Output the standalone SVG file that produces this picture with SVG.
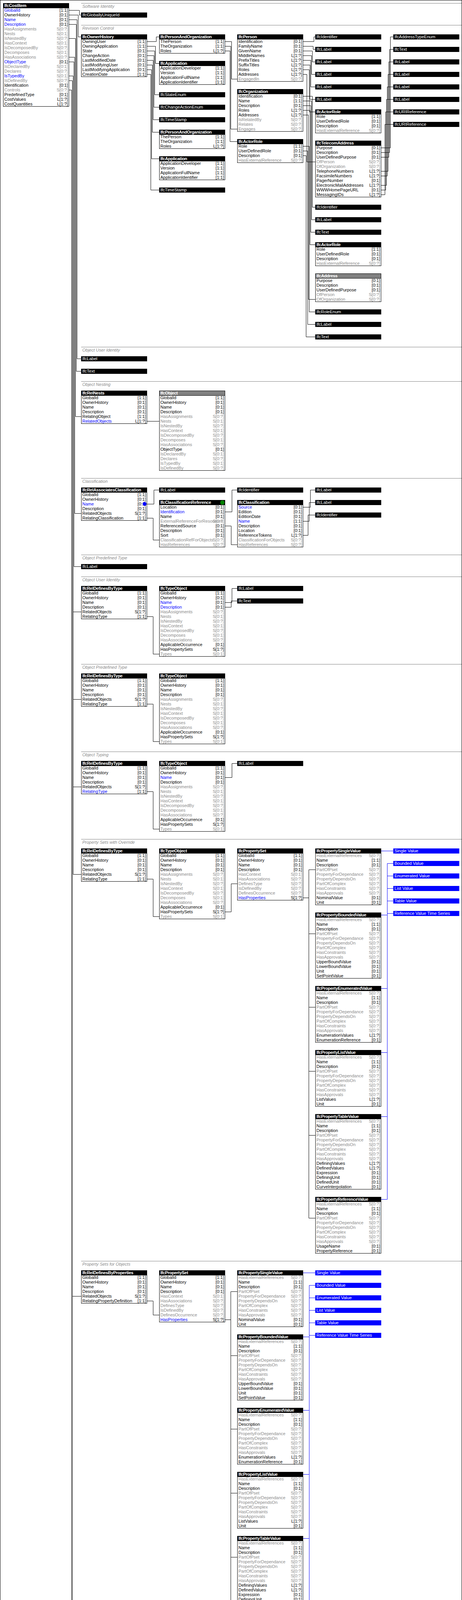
<svg xmlns="http://www.w3.org/2000/svg" width="1184" height="5460" viewBox="0 0 1184 5460">
<style>
.t{font-family:"Liberation Sans",Arial,Helvetica,sans-serif;font-size:11px;fill:#000}
.c{text-anchor:end}
.g{fill:#8c8c8c}
.u{fill:#0000ff}
.m{fill:#990000}
.ht{font-weight:bold;fill:#fff;letter-spacing:-0.3px}
.lt{fill:#fff}
.bx{fill:#fff;stroke:#000}
.hd{fill:#000;stroke:#000}
.hg{fill:#808080;stroke:#000}
.lb{fill:#000}
.bb{fill:#0000ff}
.sl{stroke:#808080;fill:none}
.st{font-style:italic;fill:#8c8c8c}
.w{stroke:#000;fill:none}
.wb{stroke:#0000ff;fill:none}
</style>
<rect x=".5" y=".5" width="1183" height="5459" fill="#fff" stroke="#000"/>

<g id="sections">
<path class="sl" d="M208 8.5H1183M208 64.5H1183M208 888.5H1183M208 976.5H1183M208 1224.5H1183M208 1420.5H1183M208 1476.5H1183M208 1700.5H1183M208 1924.5H1183M208 2148.5H1183M208 3228.5H1183M208 4308.5H1183M208 5224.5H1183"/>
<text class="t st" x="211" y="20">Software Identity</text>
<text class="t st" x="211" y="76">Revision Control</text>
<text class="t st" x="211" y="900">Object User Identity</text>
<text class="t st" x="211" y="988">Object Nesting</text>
<text class="t st" x="211" y="1236">Classification</text>
<text class="t st" x="211" y="1432">Object Predefined Type</text>
<text class="t st" x="211" y="1488">Object User Identity</text>
<text class="t st" x="211" y="1712">Object Predefined Type</text>
<text class="t st" x="211" y="1936">Object Typing</text>
<text class="t st" x="211" y="2160">Property Sets with Override</text>
<text class="t st" x="211" y="3240">Property Sets for Objects</text>
<text class="t st" x="211" y="4320">Property Sets with Override</text>
<text class="t st" x="211" y="5236">Control Assignment</text>
</g>

<g id="connectors">
<g class="w">
<path d="M177 26.5H203.5V38.5H208"/>
<path d="M177 38.5H200.5V94.5H208"/>
<path d="M177 50.5H197.5V918.5H208"/>
<path d="M177 62.5H195.5V950.5H208"/>
<path d="M177 98.5H193.5V1066.5H208"/>
<path d="M177 146.5H191.5V1314.5H208"/>
<path d="M177 158.5H189.5V1450.5H208"/>
<path d="M177 194.5H187.5V2238.5H208M187.5 1566.5H208M187.5 1790.5H208M187.5 2014.5H208"/>
<path d="M177 206.5H185.5V4398.5H208M185.5 3318.5H208"/>
<path d="M177 230.5H183.5V5338.5H208"/>
<path d="M377 106.5H400.5V94.5H408"/>
<path d="M377 118.5H398.5V162.5H408"/>
<path d="M377 130.5H396.5V242.5H408"/>
<path d="M377 142.5H394.5V274.5H408"/>
<path d="M377 154.5H392.5V306.5H408"/>
<path d="M377 166.5H390.5V338.5H408"/>
<path d="M377 178.5H388.5V406.5H408"/>
<path d="M377 190.5H386.5V486.5H408"/>
<path d="M577 106.5H593.5V202.5H608"/>
<path d="M577 118.5H591.5V330.5H608"/>
<path d="M577 130.5H589.5V362.5H608"/>
<path d="M777 106.5H804.5V94.5H808"/>
<path d="M777 118.5H802.5V126.5H808"/>
<path d="M777 130.5H800.5V158.5H808"/>
<path d="M777 142.5H798.5V190.5H808"/>
<path d="M777 154.5H796.5V222.5H808"/>
<path d="M777 166.5H794.5V254.5H808"/>
<path d="M777 178.5H792.5V286.5H808"/>
<path d="M777 190.5H786.5V414.5H808"/>
<path d="M777 246.5H800.5V530.5H808"/>
<path d="M777 258.5H798.5V562.5H808"/>
<path d="M777 270.5H796.5V594.5H808"/>
<path d="M777 282.5H794.5V626.5H808"/>
<path d="M777 294.5H790.5V766.5H808"/>
<path d="M777 374.5H792.5V798.5H808"/>
<path d="M777 386.5H788.5V830.5H808"/>
<path d="M777 398.5H784.5V862.5H808"/>
<path d="M977 378.5H1000.5V94.5H1008"/>
<path d="M977 390.5H998.5V126.5H1008"/>
<path d="M977 402.5H996.5V158.5H1008"/>
<path d="M977 438.5H994.5V190.5H1008"/>
<path d="M977 450.5H992.5V222.5H1008"/>
<path d="M977 474.5H990.5V254.5H1008"/>
<path d="M977 486.5H988.5V286.5H1008"/>
<path d="M977 498.5H986.5V318.5H1008"/>
<path d="M377 1078.5H408"/>
<path d="M377 1290.5H394.5V1254.5H408"/>
<path d="M377 1326.5H392.5V1382.5H408"/>
<path d="M577 1310.5H594.5V1254.5H608"/>
<path d="M577 1346.5H592.5V1394.5H608"/>
<path d="M777 1298.5H795.5V1254.5H808"/>
<path d="M777 1334.5H792.5V1286.5H808"/>
<path d="M777 1370.5H789.5V1318.5H808"/>
<path d="M377 1578.5H392.5V1674.5H408"/>
<path d="M577 1542.5H594.5V1506.5H608"/>
<path d="M577 1554.5H592.5V1538.5H608"/>
<path d="M377 1802.5H392.5V1898.5H408"/>
<path d="M377 2026.5H392.5V2122.5H408"/>
<path d="M577 1990.5H594.5V1954.5H608"/>
<path d="M377 2250.5H392.5V2346.5H408"/>
<path d="M577 2334.5H592.5V2262.5H608"/>
<path d="M777 2298.5H791.5M791.5 2226.5V3118.5M791.5 2226.5H808M791.5 2390.5H808M791.5 2578.5H808M791.5 2742.5H808M791.5 2906.5H808M791.5 3118.5H808"/>
<path d="M377 3330.5H392.5V3366.5H408"/>
<path d="M577 3378.5H591.5M591.5 3306.5V4198.5M591.5 3306.5H608M591.5 3470.5H608M591.5 3658.5H608M591.5 3822.5H608M591.5 3986.5H608M591.5 4198.5H608"/>
<path d="M377 4410.5H392.5V4446.5H408"/>
<path d="M577 4458.5H591.5M591.5 4386.5V5066.5M591.5 4386.5H608M591.5 4550.5H608M591.5 4738.5H608M591.5 4902.5H608M591.5 5066.5H608"/>
<path d="M377 5314.5H408"/>
</g>
<g class="wb">
<path d="M1008 2178.5H977"/>
<path d="M1008 2210.5H992.5V2342.5H977"/>
<path d="M1008 2242.5H992.5V2530.5H977"/>
<path d="M1008 2274.5H992.5V2694.5H977"/>
<path d="M1008 2306.5H992.5V2858.5H977"/>
<path d="M1008 2338.5H992.5V3070.5H977"/>
<path d="M808 3258.5H777"/>
<path d="M808 3290.5H792.5V3422.5H777"/>
<path d="M808 3322.5H792.5V3610.5H777"/>
<path d="M808 3354.5H792.5V3774.5H777"/>
<path d="M808 3386.5H792.5V3938.5H777"/>
<path d="M808 3418.5H792.5V4150.5H777"/>
</g>
</g>

<g id="n-costitem" transform="translate(8,8)"><rect class="bx" x=".5" y=".5" width="168" height="264"/><rect class="hd" x=".5" y=".5" width="168" height="12"/><text class="t ht" x="3" y="10">IfcCostItem</text>
<text class="t" y="10"><tspan x="3" dy="12" class="u">GlobalId</tspan><tspan x="3" dy="12">OwnerHistory</tspan><tspan x="3" dy="12" class="u">Name</tspan><tspan x="3" dy="12" class="u">Description</tspan><tspan x="3" dy="12" class="g">HasAssignments</tspan><tspan x="3" dy="12" class="g">Nests</tspan><tspan x="3" dy="12" class="g">IsNestedBy</tspan><tspan x="3" dy="12" class="g">HasContext</tspan><tspan x="3" dy="12" class="g">IsDecomposedBy</tspan><tspan x="3" dy="12" class="g">Decomposes</tspan><tspan x="3" dy="12" class="g">HasAssociations</tspan><tspan x="3" dy="12" class="u">ObjectType</tspan><tspan x="3" dy="12" class="g">IsDeclaredBy</tspan><tspan x="3" dy="12" class="g">Declares</tspan><tspan x="3" dy="12" class="u">IsTypedBy</tspan><tspan x="3" dy="12" class="g">IsDefinedBy</tspan><tspan x="3" dy="12">Identification</tspan><tspan x="3" dy="12" class="g">Controls</tspan><tspan x="3" dy="12">PredefinedType</tspan><tspan x="3" dy="12">CostValues</tspan><tspan x="3" dy="12">CostQuantities</tspan></text>
<text class="t c" y="10"><tspan x="166" dy="12">[1:1]</tspan><tspan x="166" dy="12">[0:1]</tspan><tspan x="166" dy="12">[0:1]</tspan><tspan x="166" dy="12">[0:1]</tspan><tspan x="166" dy="12" class="g">S[0:?]</tspan><tspan x="166" dy="12" class="g">S[0:1]</tspan><tspan x="166" dy="12" class="g">S[0:?]</tspan><tspan x="166" dy="12" class="g">S[0:1]</tspan><tspan x="166" dy="12" class="g">S[0:?]</tspan><tspan x="166" dy="12" class="g">S[0:1]</tspan><tspan x="166" dy="12" class="g">S[0:?]</tspan><tspan x="166" dy="12">[0:1]</tspan><tspan x="166" dy="12" class="g">S[0:1]</tspan><tspan x="166" dy="12" class="g">S[0:?]</tspan><tspan x="166" dy="12" class="g">S[0:1]</tspan><tspan x="166" dy="12" class="g">S[0:?]</tspan><tspan x="166" dy="12">[0:1]</tspan><tspan x="166" dy="12" class="g">S[0:?]</tspan><tspan x="166" dy="12">[0:1]</tspan><tspan x="166" dy="12">L[1:?]</tspan><tspan x="166" dy="12">L[1:?]</tspan></text></g>

<g id="n-globallyuniqueid" transform="translate(208,32)"><rect class="lb" width="169" height="13"/><text class="t lt" x="3" y="10">IfcGloballyUniqueId</text></g>

<g id="n-ownerhistory" transform="translate(208,88)"><rect class="bx" x=".5" y=".5" width="168" height="108"/><rect class="hd" x=".5" y=".5" width="168" height="12"/><text class="t ht" x="3" y="10">IfcOwnerHistory</text>
<text class="t" y="10"><tspan x="3" dy="12">OwningUser</tspan><tspan x="3" dy="12">OwningApplication</tspan><tspan x="3" dy="12">State</tspan><tspan x="3" dy="12">ChangeAction</tspan><tspan x="3" dy="12">LastModifiedDate</tspan><tspan x="3" dy="12">LastModifyingUser</tspan><tspan x="3" dy="12">LastModifyingApplication</tspan><tspan x="3" dy="12">CreationDate</tspan></text>
<text class="t c" y="10"><tspan x="166" dy="12">[1:1]</tspan><tspan x="166" dy="12">[1:1]</tspan><tspan x="166" dy="12">[0:1]</tspan><tspan x="166" dy="12">[0:1]</tspan><tspan x="166" dy="12">[0:1]</tspan><tspan x="166" dy="12">[0:1]</tspan><tspan x="166" dy="12">[0:1]</tspan><tspan x="166" dy="12">[1:1]</tspan></text></g>

<g id="n-personandorg-1" transform="translate(408,88)"><rect class="bx" x=".5" y=".5" width="168" height="48"/><rect class="hd" x=".5" y=".5" width="168" height="12"/><text class="t ht" x="3" y="10">IfcPersonAndOrganization</text>
<text class="t" y="10"><tspan x="3" dy="12">ThePerson</tspan><tspan x="3" dy="12">TheOrganization</tspan><tspan x="3" dy="12">Roles</tspan></text>
<text class="t c" y="10"><tspan x="166" dy="12">[1:1]</tspan><tspan x="166" dy="12">[1:1]</tspan><tspan x="166" dy="12">L[1:?]</tspan></text></g>

<g id="n-application-1" transform="translate(408,156)"><rect class="bx" x=".5" y=".5" width="168" height="60"/><rect class="hd" x=".5" y=".5" width="168" height="12"/><text class="t ht" x="3" y="10">IfcApplication</text>
<text class="t" y="10"><tspan x="3" dy="12">ApplicationDeveloper</tspan><tspan x="3" dy="12">Version</tspan><tspan x="3" dy="12">ApplicationFullName</tspan><tspan x="3" dy="12">ApplicationIdentifier</tspan></text>
<text class="t c" y="10"><tspan x="166" dy="12">[1:1]</tspan><tspan x="166" dy="12">[1:1]</tspan><tspan x="166" dy="12">[1:1]</tspan><tspan x="166" dy="12">[1:1]</tspan></text></g>

<g id="n-stateenum" transform="translate(408,236)"><rect class="lb" width="169" height="13"/><text class="t lt" x="3" y="10">IfcStateEnum</text></g>
<g id="n-changeactionenum" transform="translate(408,268)"><rect class="lb" width="169" height="13"/><text class="t lt" x="3" y="10">IfcChangeActionEnum</text></g>
<g id="n-timestamp-1" transform="translate(408,300)"><rect class="lb" width="169" height="13"/><text class="t lt" x="3" y="10">IfcTimeStamp</text></g>

<g id="n-personandorg-2" transform="translate(408,332)"><rect class="bx" x=".5" y=".5" width="168" height="48"/><rect class="hd" x=".5" y=".5" width="168" height="12"/><text class="t ht" x="3" y="10">IfcPersonAndOrganization</text>
<text class="t" y="10"><tspan x="3" dy="12">ThePerson</tspan><tspan x="3" dy="12">TheOrganization</tspan><tspan x="3" dy="12">Roles</tspan></text>
<text class="t c" y="10"><tspan x="166" dy="12">[1:1]</tspan><tspan x="166" dy="12">[1:1]</tspan><tspan x="166" dy="12">L[1:?]</tspan></text></g>

<g id="n-application-2" transform="translate(408,400)"><rect class="bx" x=".5" y=".5" width="168" height="60"/><rect class="hd" x=".5" y=".5" width="168" height="12"/><text class="t ht" x="3" y="10">IfcApplication</text>
<text class="t" y="10"><tspan x="3" dy="12">ApplicationDeveloper</tspan><tspan x="3" dy="12">Version</tspan><tspan x="3" dy="12">ApplicationFullName</tspan><tspan x="3" dy="12">ApplicationIdentifier</tspan></text>
<text class="t c" y="10"><tspan x="166" dy="12">[1:1]</tspan><tspan x="166" dy="12">[1:1]</tspan><tspan x="166" dy="12">[1:1]</tspan><tspan x="166" dy="12">[1:1]</tspan></text></g>

<g id="n-timestamp-2" transform="translate(408,480)"><rect class="lb" width="169" height="13"/><text class="t lt" x="3" y="10">IfcTimeStamp</text></g>

<g id="n-person" transform="translate(608,88)"><rect class="bx" x=".5" y=".5" width="168" height="120"/><rect class="hd" x=".5" y=".5" width="168" height="12"/><text class="t ht" x="3" y="10">IfcPerson</text>
<text class="t" y="10"><tspan x="3" dy="12">Identification</tspan><tspan x="3" dy="12">FamilyName</tspan><tspan x="3" dy="12">GivenName</tspan><tspan x="3" dy="12">MiddleNames</tspan><tspan x="3" dy="12">PrefixTitles</tspan><tspan x="3" dy="12">SuffixTitles</tspan><tspan x="3" dy="12">Roles</tspan><tspan x="3" dy="12">Addresses</tspan><tspan x="3" dy="12" class="g">EngagedIn</tspan></text>
<text class="t c" y="10"><tspan x="166" dy="12">[0:1]</tspan><tspan x="166" dy="12">[0:1]</tspan><tspan x="166" dy="12">[0:1]</tspan><tspan x="166" dy="12">L[1:?]</tspan><tspan x="166" dy="12">L[1:?]</tspan><tspan x="166" dy="12">L[1:?]</tspan><tspan x="166" dy="12">L[1:?]</tspan><tspan x="166" dy="12">L[1:?]</tspan><tspan x="166" dy="12" class="g">S[0:?]</tspan></text></g>

<g id="n-organization" transform="translate(608,228)"><rect class="bx" x=".5" y=".5" width="168" height="108"/><rect class="hd" x=".5" y=".5" width="168" height="12"/><text class="t ht" x="3" y="10">IfcOrganization</text>
<text class="t" y="10"><tspan x="3" dy="12">Identification</tspan><tspan x="3" dy="12">Name</tspan><tspan x="3" dy="12">Description</tspan><tspan x="3" dy="12">Roles</tspan><tspan x="3" dy="12">Addresses</tspan><tspan x="3" dy="12" class="g">IsRelatedBy</tspan><tspan x="3" dy="12" class="g">Relates</tspan><tspan x="3" dy="12" class="g">Engages</tspan></text>
<text class="t c" y="10"><tspan x="166" dy="12">[0:1]</tspan><tspan x="166" dy="12">[1:1]</tspan><tspan x="166" dy="12">[0:1]</tspan><tspan x="166" dy="12">L[1:?]</tspan><tspan x="166" dy="12">L[1:?]</tspan><tspan x="166" dy="12" class="g">S[0:?]</tspan><tspan x="166" dy="12" class="g">S[0:?]</tspan><tspan x="166" dy="12" class="g">S[0:?]</tspan></text></g>

<g id="n-actorrole-1" transform="translate(608,356)"><rect class="bx" x=".5" y=".5" width="168" height="60"/><rect class="hd" x=".5" y=".5" width="168" height="12"/><text class="t ht" x="3" y="10">IfcActorRole</text>
<text class="t" y="10"><tspan x="3" dy="12">Role</tspan><tspan x="3" dy="12">UserDefinedRole</tspan><tspan x="3" dy="12">Description</tspan><tspan x="3" dy="12" class="g">HasExternalReference</tspan></text>
<text class="t c" y="10"><tspan x="166" dy="12">[1:1]</tspan><tspan x="166" dy="12">[0:1]</tspan><tspan x="166" dy="12">[0:1]</tspan><tspan x="166" dy="12" class="g">S[0:?]</tspan></text></g>

<g id="n-identifier-1" transform="translate(808,88)"><rect class="lb" width="169" height="13"/><text class="t lt" x="3" y="10">IfcIdentifier</text></g>
<g id="n-label-1" transform="translate(808,120)"><rect class="lb" width="169" height="13"/><text class="t lt" x="3" y="10">IfcLabel</text></g>
<g id="n-label-2" transform="translate(808,152)"><rect class="lb" width="169" height="13"/><text class="t lt" x="3" y="10">IfcLabel</text></g>
<g id="n-label-3" transform="translate(808,184)"><rect class="lb" width="169" height="13"/><text class="t lt" x="3" y="10">IfcLabel</text></g>
<g id="n-label-4" transform="translate(808,216)"><rect class="lb" width="169" height="13"/><text class="t lt" x="3" y="10">IfcLabel</text></g>
<g id="n-label-5" transform="translate(808,248)"><rect class="lb" width="169" height="13"/><text class="t lt" x="3" y="10">IfcLabel</text></g>

<g id="n-actorrole-2" transform="translate(808,280)"><rect class="bx" x=".5" y=".5" width="168" height="60"/><rect class="hd" x=".5" y=".5" width="168" height="12"/><text class="t ht" x="3" y="10">IfcActorRole</text>
<text class="t" y="10"><tspan x="3" dy="12">Role</tspan><tspan x="3" dy="12">UserDefinedRole</tspan><tspan x="3" dy="12">Description</tspan><tspan x="3" dy="12" class="g">HasExternalReference</tspan></text>
<text class="t c" y="10"><tspan x="166" dy="12">[1:1]</tspan><tspan x="166" dy="12">[0:1]</tspan><tspan x="166" dy="12">[0:1]</tspan><tspan x="166" dy="12" class="g">S[0:?]</tspan></text></g>

<g id="n-telecomaddress" transform="translate(808,360)"><rect class="bx" x=".5" y=".5" width="168" height="144"/><rect class="hd" x=".5" y=".5" width="168" height="12"/><text class="t ht" x="3" y="10">IfcTelecomAddress</text>
<text class="t" y="10"><tspan x="3" dy="12">Purpose</tspan><tspan x="3" dy="12">Description</tspan><tspan x="3" dy="12">UserDefinedPurpose</tspan><tspan x="3" dy="12" class="g">OfPerson</tspan><tspan x="3" dy="12" class="g">OfOrganization</tspan><tspan x="3" dy="12">TelephoneNumbers</tspan><tspan x="3" dy="12">FacsimileNumbers</tspan><tspan x="3" dy="12">PagerNumber</tspan><tspan x="3" dy="12">ElectronicMailAddresses</tspan><tspan x="3" dy="12">WWWHomePageURL</tspan><tspan x="3" dy="12">MessagingIDs</tspan></text>
<text class="t c" y="10"><tspan x="166" dy="12">[0:1]</tspan><tspan x="166" dy="12">[0:1]</tspan><tspan x="166" dy="12">[0:1]</tspan><tspan x="166" dy="12" class="g">S[0:?]</tspan><tspan x="166" dy="12" class="g">S[0:?]</tspan><tspan x="166" dy="12">L[1:?]</tspan><tspan x="166" dy="12">L[1:?]</tspan><tspan x="166" dy="12">[0:1]</tspan><tspan x="166" dy="12">L[1:?]</tspan><tspan x="166" dy="12">[0:1]</tspan><tspan x="166" dy="12">L[1:?]</tspan></text></g>

<g id="n-identifier-2" transform="translate(808,524)"><rect class="lb" width="169" height="13"/><text class="t lt" x="3" y="10">IfcIdentifier</text></g>
<g id="n-label-6" transform="translate(808,556)"><rect class="lb" width="169" height="13"/><text class="t lt" x="3" y="10">IfcLabel</text></g>
<g id="n-text-1" transform="translate(808,588)"><rect class="lb" width="169" height="13"/><text class="t lt" x="3" y="10">IfcText</text></g>

<g id="n-actorrole-3" transform="translate(808,620)"><rect class="bx" x=".5" y=".5" width="168" height="60"/><rect class="hd" x=".5" y=".5" width="168" height="12"/><text class="t ht" x="3" y="10">IfcActorRole</text>
<text class="t" y="10"><tspan x="3" dy="12">Role</tspan><tspan x="3" dy="12">UserDefinedRole</tspan><tspan x="3" dy="12">Description</tspan><tspan x="3" dy="12" class="g">HasExternalReference</tspan></text>
<text class="t c" y="10"><tspan x="166" dy="12">[1:1]</tspan><tspan x="166" dy="12">[0:1]</tspan><tspan x="166" dy="12">[0:1]</tspan><tspan x="166" dy="12" class="g">S[0:?]</tspan></text></g>

<g id="n-address" transform="translate(808,700)"><rect class="bx" x=".5" y=".5" width="168" height="72"/><rect class="hg" x=".5" y=".5" width="168" height="12"/><text class="t ht" x="3" y="10">IfcAddress</text>
<text class="t" y="10"><tspan x="3" dy="12">Purpose</tspan><tspan x="3" dy="12">Description</tspan><tspan x="3" dy="12">UserDefinedPurpose</tspan><tspan x="3" dy="12" class="g">OfPerson</tspan><tspan x="3" dy="12" class="g">OfOrganization</tspan></text>
<text class="t c" y="10"><tspan x="166" dy="12">[0:1]</tspan><tspan x="166" dy="12">[0:1]</tspan><tspan x="166" dy="12">[0:1]</tspan><tspan x="166" dy="12" class="g">S[0:?]</tspan><tspan x="166" dy="12" class="g">S[0:?]</tspan></text></g>

<g id="n-roleenum" transform="translate(808,792)"><rect class="lb" width="169" height="13"/><text class="t lt" x="3" y="10">IfcRoleEnum</text></g>
<g id="n-label-7" transform="translate(808,824)"><rect class="lb" width="169" height="13"/><text class="t lt" x="3" y="10">IfcLabel</text></g>
<g id="n-text-2" transform="translate(808,856)"><rect class="lb" width="169" height="13"/><text class="t lt" x="3" y="10">IfcText</text></g>

<g id="n-addresstypeenum" transform="translate(1008,88)"><rect class="lb" width="169" height="13"/><text class="t lt" x="3" y="10">IfcAddressTypeEnum</text></g>
<g id="n-text-3" transform="translate(1008,120)"><rect class="lb" width="169" height="13"/><text class="t lt" x="3" y="10">IfcText</text></g>
<g id="n-label-8" transform="translate(1008,152)"><rect class="lb" width="169" height="13"/><text class="t lt" x="3" y="10">IfcLabel</text></g>
<g id="n-label-9" transform="translate(1008,184)"><rect class="lb" width="169" height="13"/><text class="t lt" x="3" y="10">IfcLabel</text></g>
<g id="n-label-10" transform="translate(1008,216)"><rect class="lb" width="169" height="13"/><text class="t lt" x="3" y="10">IfcLabel</text></g>
<g id="n-label-11" transform="translate(1008,248)"><rect class="lb" width="169" height="13"/><text class="t lt" x="3" y="10">IfcLabel</text></g>
<g id="n-urireference-1" transform="translate(1008,280)"><rect class="lb" width="169" height="13"/><text class="t lt" x="3" y="10">IfcURIReference</text></g>
<g id="n-urireference-2" transform="translate(1008,312)"><rect class="lb" width="169" height="13"/><text class="t lt" x="3" y="10">IfcURIReference</text></g>

<g id="n-label-12" transform="translate(208,912)"><rect class="lb" width="169" height="13"/><text class="t lt" x="3" y="10">IfcLabel</text></g>
<g id="n-text-4" transform="translate(208,944)"><rect class="lb" width="169" height="13"/><text class="t lt" x="3" y="10">IfcText</text></g>

<g id="n-relnests" transform="translate(208,1000)"><rect class="bx" x=".5" y=".5" width="168" height="84"/><rect class="hd" x=".5" y=".5" width="168" height="12"/><text class="t ht" x="3" y="10">IfcRelNests</text>
<text class="t" y="10"><tspan x="3" dy="12">GlobalId</tspan><tspan x="3" dy="12">OwnerHistory</tspan><tspan x="3" dy="12">Name</tspan><tspan x="3" dy="12">Description</tspan><tspan x="3" dy="12">RelatingObject</tspan><tspan x="3" dy="12" class="u">RelatedObjects</tspan></text>
<text class="t c" y="10"><tspan x="166" dy="12">[1:1]</tspan><tspan x="166" dy="12">[0:1]</tspan><tspan x="166" dy="12">[0:1]</tspan><tspan x="166" dy="12">[0:1]</tspan><tspan x="166" dy="12">[1:1]</tspan><tspan x="166" dy="12">L[1:?]</tspan></text></g>

<g id="n-object-1" transform="translate(408,1000)"><rect class="bx" x=".5" y=".5" width="168" height="204"/><rect class="hg" x=".5" y=".5" width="168" height="12"/><text class="t ht" x="3" y="10">IfcObject</text>
<text class="t" y="10"><tspan x="3" dy="12">GlobalId</tspan><tspan x="3" dy="12">OwnerHistory</tspan><tspan x="3" dy="12">Name</tspan><tspan x="3" dy="12">Description</tspan><tspan x="3" dy="12" class="g">HasAssignments</tspan><tspan x="3" dy="12" class="g">Nests</tspan><tspan x="3" dy="12" class="g">IsNestedBy</tspan><tspan x="3" dy="12" class="g">HasContext</tspan><tspan x="3" dy="12" class="g">IsDecomposedBy</tspan><tspan x="3" dy="12" class="g">Decomposes</tspan><tspan x="3" dy="12" class="g">HasAssociations</tspan><tspan x="3" dy="12">ObjectType</tspan><tspan x="3" dy="12" class="g">IsDeclaredBy</tspan><tspan x="3" dy="12" class="g">Declares</tspan><tspan x="3" dy="12" class="g">IsTypedBy</tspan><tspan x="3" dy="12" class="g">IsDefinedBy</tspan></text>
<text class="t c" y="10"><tspan x="166" dy="12">[1:1]</tspan><tspan x="166" dy="12">[0:1]</tspan><tspan x="166" dy="12">[0:1]</tspan><tspan x="166" dy="12">[0:1]</tspan><tspan x="166" dy="12" class="g">S[0:?]</tspan><tspan x="166" dy="12" class="g">S[0:1]</tspan><tspan x="166" dy="12" class="g">S[0:?]</tspan><tspan x="166" dy="12" class="g">S[0:1]</tspan><tspan x="166" dy="12" class="g">S[0:?]</tspan><tspan x="166" dy="12" class="g">S[0:1]</tspan><tspan x="166" dy="12" class="g">S[0:?]</tspan><tspan x="166" dy="12">[0:1]</tspan><tspan x="166" dy="12" class="g">S[0:1]</tspan><tspan x="166" dy="12" class="g">S[0:?]</tspan><tspan x="166" dy="12" class="g">S[0:1]</tspan><tspan x="166" dy="12" class="g">S[0:?]</tspan></text></g>

<g id="n-relassociatesclassification" transform="translate(208,1248)"><rect class="bx" x=".5" y=".5" width="168" height="84"/><rect class="hd" x=".5" y=".5" width="168" height="12"/><text class="t ht" x="3" y="10">IfcRelAssociatesClassification</text>
<text class="t" y="10"><tspan x="3" dy="12">GlobalId</tspan><tspan x="3" dy="12">OwnerHistory</tspan><tspan x="3" dy="12" class="u">Name</tspan><tspan x="3" dy="12">Description</tspan><tspan x="3" dy="12">RelatedObjects</tspan><tspan x="3" dy="12">RelatingClassification</tspan></text>
<text class="t c" y="10"><tspan x="166" dy="12">[1:1]</tspan><tspan x="166" dy="12">[0:1]</tspan><tspan x="166" dy="12">[0:1]</tspan><tspan x="166" dy="12">[0:1]</tspan><tspan x="166" dy="12">S[1:?]</tspan><tspan x="166" dy="12">[1:1]</tspan></text>
<circle cx="162.5" cy="42" r="5" fill="#0000ff"/></g>

<g id="n-label-13" transform="translate(408,1248)"><rect class="lb" width="169" height="13"/><text class="t lt" x="3" y="10">IfcLabel</text></g>

<g id="n-classificationreference" transform="translate(408,1280)"><rect class="bx" x=".5" y=".5" width="168" height="120"/><rect class="hd" x=".5" y=".5" width="168" height="12"/><text class="t ht" x="3" y="10">IfcClassificationReference</text>
<text class="t" y="10"><tspan x="3" dy="12">Location</tspan><tspan x="3" dy="12" class="u">Identification</tspan><tspan x="3" dy="12">Name</tspan><tspan x="3" dy="12" class="g">ExternalReferenceForResources</tspan><tspan x="3" dy="12">ReferencedSource</tspan><tspan x="3" dy="12">Description</tspan><tspan x="3" dy="12">Sort</tspan><tspan x="3" dy="12" class="g">ClassificationRefForObjects</tspan><tspan x="3" dy="12" class="g">HasReferences</tspan></text>
<text class="t c" y="10"><tspan x="166" dy="12">[0:1]</tspan><tspan x="166" dy="12">[0:1]</tspan><tspan x="166" dy="12">[0:1]</tspan><tspan x="166" dy="12" class="g">S[0:?]</tspan><tspan x="166" dy="12">[0:1]</tspan><tspan x="166" dy="12">[0:1]</tspan><tspan x="166" dy="12">[0:1]</tspan><tspan x="166" dy="12" class="g">S[0:?]</tspan><tspan x="166" dy="12" class="g">S[0:?]</tspan></text>
<circle cx="162" cy="6.5" r="5.5" fill="#008000"/></g>

<g id="n-identifier-3" transform="translate(608,1248)"><rect class="lb" width="169" height="13"/><text class="t lt" x="3" y="10">IfcIdentifier</text></g>

<g id="n-classification" transform="translate(608,1280)"><rect class="bx" x=".5" y=".5" width="168" height="120"/><rect class="hd" x=".5" y=".5" width="168" height="12"/><text class="t ht" x="3" y="10">IfcClassification</text>
<text class="t" y="10"><tspan x="3" dy="12" class="u">Source</tspan><tspan x="3" dy="12">Edition</tspan><tspan x="3" dy="12">EditionDate</tspan><tspan x="3" dy="12" class="u">Name</tspan><tspan x="3" dy="12">Description</tspan><tspan x="3" dy="12">Location</tspan><tspan x="3" dy="12">ReferenceTokens</tspan><tspan x="3" dy="12" class="g">ClassificationForObjects</tspan><tspan x="3" dy="12" class="g">HasReferences</tspan></text>
<text class="t c" y="10"><tspan x="166" dy="12">[0:1]</tspan><tspan x="166" dy="12">[0:1]</tspan><tspan x="166" dy="12">[0:1]</tspan><tspan x="166" dy="12">[1:1]</tspan><tspan x="166" dy="12">[0:1]</tspan><tspan x="166" dy="12">[0:1]</tspan><tspan x="166" dy="12">L[1:?]</tspan><tspan x="166" dy="12" class="g">S[0:?]</tspan><tspan x="166" dy="12" class="g">S[0:?]</tspan></text></g>

<g id="n-label-14" transform="translate(808,1248)"><rect class="lb" width="169" height="13"/><text class="t lt" x="3" y="10">IfcLabel</text></g>
<g id="n-label-15" transform="translate(808,1280)"><rect class="lb" width="169" height="13"/><text class="t lt" x="3" y="10">IfcLabel</text></g>
<g id="n-identifier-4" transform="translate(808,1312)"><rect class="lb" width="169" height="13"/><text class="t lt" x="3" y="10">IfcIdentifier</text></g>

<g id="n-label-16" transform="translate(208,1444)"><rect class="lb" width="169" height="13"/><text class="t lt" x="3" y="10">IfcLabel</text></g>

<g id="n-reldefinesbytype-1" transform="translate(208,1500)"><rect class="bx" x=".5" y=".5" width="168" height="84"/><rect class="hd" x=".5" y=".5" width="168" height="12"/><text class="t ht" x="3" y="10">IfcRelDefinesByType</text>
<text class="t" y="10"><tspan x="3" dy="12">GlobalId</tspan><tspan x="3" dy="12">OwnerHistory</tspan><tspan x="3" dy="12">Name</tspan><tspan x="3" dy="12">Description</tspan><tspan x="3" dy="12">RelatedObjects</tspan><tspan x="3" dy="12">RelatingType</tspan></text>
<text class="t c" y="10"><tspan x="166" dy="12">[1:1]</tspan><tspan x="166" dy="12">[0:1]</tspan><tspan x="166" dy="12">[0:1]</tspan><tspan x="166" dy="12">[0:1]</tspan><tspan x="166" dy="12">S[1:?]</tspan><tspan x="166" dy="12">[1:1]</tspan></text></g>

<g id="n-typeobject-1" transform="translate(408,1500)"><rect class="bx" x=".5" y=".5" width="168" height="180"/><rect class="hd" x=".5" y=".5" width="168" height="12"/><text class="t ht" x="3" y="10">IfcTypeObject</text>
<text class="t" y="10"><tspan x="3" dy="12">GlobalId</tspan><tspan x="3" dy="12">OwnerHistory</tspan><tspan x="3" dy="12" class="u">Name</tspan><tspan x="3" dy="12" class="u">Description</tspan><tspan x="3" dy="12" class="g">HasAssignments</tspan><tspan x="3" dy="12" class="g">Nests</tspan><tspan x="3" dy="12" class="g">IsNestedBy</tspan><tspan x="3" dy="12" class="g">HasContext</tspan><tspan x="3" dy="12" class="g">IsDecomposedBy</tspan><tspan x="3" dy="12" class="g">Decomposes</tspan><tspan x="3" dy="12" class="g">HasAssociations</tspan><tspan x="3" dy="12">ApplicableOccurrence</tspan><tspan x="3" dy="12">HasPropertySets</tspan><tspan x="3" dy="12" class="g">Types</tspan></text>
<text class="t c" y="10"><tspan x="166" dy="12">[1:1]</tspan><tspan x="166" dy="12">[0:1]</tspan><tspan x="166" dy="12">[0:1]</tspan><tspan x="166" dy="12">[0:1]</tspan><tspan x="166" dy="12" class="g">S[0:?]</tspan><tspan x="166" dy="12" class="g">S[0:1]</tspan><tspan x="166" dy="12" class="g">S[0:?]</tspan><tspan x="166" dy="12" class="g">S[0:1]</tspan><tspan x="166" dy="12" class="g">S[0:?]</tspan><tspan x="166" dy="12" class="g">S[0:1]</tspan><tspan x="166" dy="12" class="g">S[0:?]</tspan><tspan x="166" dy="12">[0:1]</tspan><tspan x="166" dy="12">S[1:?]</tspan><tspan x="166" dy="12" class="g">S[0:1]</tspan></text></g>

<g id="n-label-17" transform="translate(608,1500)"><rect class="lb" width="169" height="13"/><text class="t lt" x="3" y="10">IfcLabel</text></g>
<g id="n-text-5" transform="translate(608,1532)"><rect class="lb" width="169" height="13"/><text class="t lt" x="3" y="10">IfcText</text></g>

<g id="n-reldefinesbytype-2" transform="translate(208,1724)"><rect class="bx" x=".5" y=".5" width="168" height="84"/><rect class="hd" x=".5" y=".5" width="168" height="12"/><text class="t ht" x="3" y="10">IfcRelDefinesByType</text>
<text class="t" y="10"><tspan x="3" dy="12">GlobalId</tspan><tspan x="3" dy="12">OwnerHistory</tspan><tspan x="3" dy="12">Name</tspan><tspan x="3" dy="12">Description</tspan><tspan x="3" dy="12">RelatedObjects</tspan><tspan x="3" dy="12">RelatingType</tspan></text>
<text class="t c" y="10"><tspan x="166" dy="12">[1:1]</tspan><tspan x="166" dy="12">[0:1]</tspan><tspan x="166" dy="12">[0:1]</tspan><tspan x="166" dy="12">[0:1]</tspan><tspan x="166" dy="12">S[1:?]</tspan><tspan x="166" dy="12">[1:1]</tspan></text></g>

<g id="n-typeobject-2" transform="translate(408,1724)"><rect class="bx" x=".5" y=".5" width="168" height="180"/><rect class="hd" x=".5" y=".5" width="168" height="12"/><text class="t ht" x="3" y="10">IfcTypeObject</text>
<text class="t" y="10"><tspan x="3" dy="12">GlobalId</tspan><tspan x="3" dy="12">OwnerHistory</tspan><tspan x="3" dy="12">Name</tspan><tspan x="3" dy="12">Description</tspan><tspan x="3" dy="12" class="g">HasAssignments</tspan><tspan x="3" dy="12" class="g">Nests</tspan><tspan x="3" dy="12" class="g">IsNestedBy</tspan><tspan x="3" dy="12" class="g">HasContext</tspan><tspan x="3" dy="12" class="g">IsDecomposedBy</tspan><tspan x="3" dy="12" class="g">Decomposes</tspan><tspan x="3" dy="12" class="g">HasAssociations</tspan><tspan x="3" dy="12">ApplicableOccurrence</tspan><tspan x="3" dy="12">HasPropertySets</tspan><tspan x="3" dy="12" class="g">Types</tspan></text>
<text class="t c" y="10"><tspan x="166" dy="12">[1:1]</tspan><tspan x="166" dy="12">[0:1]</tspan><tspan x="166" dy="12">[0:1]</tspan><tspan x="166" dy="12">[0:1]</tspan><tspan x="166" dy="12" class="g">S[0:?]</tspan><tspan x="166" dy="12" class="g">S[0:1]</tspan><tspan x="166" dy="12" class="g">S[0:?]</tspan><tspan x="166" dy="12" class="g">S[0:1]</tspan><tspan x="166" dy="12" class="g">S[0:?]</tspan><tspan x="166" dy="12" class="g">S[0:1]</tspan><tspan x="166" dy="12" class="g">S[0:?]</tspan><tspan x="166" dy="12">[0:1]</tspan><tspan x="166" dy="12">S[1:?]</tspan><tspan x="166" dy="12" class="g">S[0:1]</tspan></text></g>

<g id="n-reldefinesbytype-3" transform="translate(208,1948)"><rect class="bx" x=".5" y=".5" width="168" height="84"/><rect class="hd" x=".5" y=".5" width="168" height="12"/><text class="t ht" x="3" y="10">IfcRelDefinesByType</text>
<text class="t" y="10"><tspan x="3" dy="12">GlobalId</tspan><tspan x="3" dy="12">OwnerHistory</tspan><tspan x="3" dy="12">Name</tspan><tspan x="3" dy="12">Description</tspan><tspan x="3" dy="12">RelatedObjects</tspan><tspan x="3" dy="12" class="u">RelatingType</tspan></text>
<text class="t c" y="10"><tspan x="166" dy="12">[1:1]</tspan><tspan x="166" dy="12">[0:1]</tspan><tspan x="166" dy="12">[0:1]</tspan><tspan x="166" dy="12">[0:1]</tspan><tspan x="166" dy="12">S[1:?]</tspan><tspan x="166" dy="12">[1:1]</tspan></text></g>

<g id="n-typeobject-3" transform="translate(408,1948)"><rect class="bx" x=".5" y=".5" width="168" height="180"/><rect class="hd" x=".5" y=".5" width="168" height="12"/><text class="t ht" x="3" y="10">IfcTypeObject</text>
<text class="t" y="10"><tspan x="3" dy="12">GlobalId</tspan><tspan x="3" dy="12">OwnerHistory</tspan><tspan x="3" dy="12" class="u">Name</tspan><tspan x="3" dy="12">Description</tspan><tspan x="3" dy="12" class="g">HasAssignments</tspan><tspan x="3" dy="12" class="g">Nests</tspan><tspan x="3" dy="12" class="g">IsNestedBy</tspan><tspan x="3" dy="12" class="g">HasContext</tspan><tspan x="3" dy="12" class="g">IsDecomposedBy</tspan><tspan x="3" dy="12" class="g">Decomposes</tspan><tspan x="3" dy="12" class="g">HasAssociations</tspan><tspan x="3" dy="12">ApplicableOccurrence</tspan><tspan x="3" dy="12">HasPropertySets</tspan><tspan x="3" dy="12" class="g">Types</tspan></text>
<text class="t c" y="10"><tspan x="166" dy="12">[1:1]</tspan><tspan x="166" dy="12">[0:1]</tspan><tspan x="166" dy="12">[0:1]</tspan><tspan x="166" dy="12">[0:1]</tspan><tspan x="166" dy="12" class="g">S[0:?]</tspan><tspan x="166" dy="12" class="g">S[0:1]</tspan><tspan x="166" dy="12" class="g">S[0:?]</tspan><tspan x="166" dy="12" class="g">S[0:1]</tspan><tspan x="166" dy="12" class="g">S[0:?]</tspan><tspan x="166" dy="12" class="g">S[0:1]</tspan><tspan x="166" dy="12" class="g">S[0:?]</tspan><tspan x="166" dy="12">[0:1]</tspan><tspan x="166" dy="12">S[1:?]</tspan><tspan x="166" dy="12" class="g">S[0:1]</tspan></text></g>

<g id="n-label-18" transform="translate(608,1948)"><rect class="lb" width="169" height="13"/><text class="t lt" x="3" y="10">IfcLabel</text></g>

<g id="n-reldefinesbytype-4" transform="translate(208,2172)"><rect class="bx" x=".5" y=".5" width="168" height="84"/><rect class="hd" x=".5" y=".5" width="168" height="12"/><text class="t ht" x="3" y="10">IfcRelDefinesByType</text>
<text class="t" y="10"><tspan x="3" dy="12">GlobalId</tspan><tspan x="3" dy="12">OwnerHistory</tspan><tspan x="3" dy="12">Name</tspan><tspan x="3" dy="12">Description</tspan><tspan x="3" dy="12">RelatedObjects</tspan><tspan x="3" dy="12">RelatingType</tspan></text>
<text class="t c" y="10"><tspan x="166" dy="12">[1:1]</tspan><tspan x="166" dy="12">[0:1]</tspan><tspan x="166" dy="12">[0:1]</tspan><tspan x="166" dy="12">[0:1]</tspan><tspan x="166" dy="12">S[1:?]</tspan><tspan x="166" dy="12">[1:1]</tspan></text></g>

<g id="n-typeobject-4" transform="translate(408,2172)"><rect class="bx" x=".5" y=".5" width="168" height="180"/><rect class="hd" x=".5" y=".5" width="168" height="12"/><text class="t ht" x="3" y="10">IfcTypeObject</text>
<text class="t" y="10"><tspan x="3" dy="12">GlobalId</tspan><tspan x="3" dy="12">OwnerHistory</tspan><tspan x="3" dy="12">Name</tspan><tspan x="3" dy="12">Description</tspan><tspan x="3" dy="12" class="g">HasAssignments</tspan><tspan x="3" dy="12" class="g">Nests</tspan><tspan x="3" dy="12" class="g">IsNestedBy</tspan><tspan x="3" dy="12" class="g">HasContext</tspan><tspan x="3" dy="12" class="g">IsDecomposedBy</tspan><tspan x="3" dy="12" class="g">Decomposes</tspan><tspan x="3" dy="12" class="g">HasAssociations</tspan><tspan x="3" dy="12">ApplicableOccurrence</tspan><tspan x="3" dy="12">HasPropertySets</tspan><tspan x="3" dy="12" class="g">Types</tspan></text>
<text class="t c" y="10"><tspan x="166" dy="12">[1:1]</tspan><tspan x="166" dy="12">[0:1]</tspan><tspan x="166" dy="12">[0:1]</tspan><tspan x="166" dy="12">[0:1]</tspan><tspan x="166" dy="12" class="g">S[0:?]</tspan><tspan x="166" dy="12" class="g">S[0:1]</tspan><tspan x="166" dy="12" class="g">S[0:?]</tspan><tspan x="166" dy="12" class="g">S[0:1]</tspan><tspan x="166" dy="12" class="g">S[0:?]</tspan><tspan x="166" dy="12" class="g">S[0:1]</tspan><tspan x="166" dy="12" class="g">S[0:?]</tspan><tspan x="166" dy="12">[0:1]</tspan><tspan x="166" dy="12">S[1:?]</tspan><tspan x="166" dy="12" class="g">S[0:1]</tspan></text></g>

<g id="n-propertyset-1" transform="translate(608,2172)"><rect class="bx" x=".5" y=".5" width="168" height="132"/><rect class="hd" x=".5" y=".5" width="168" height="12"/><text class="t ht" x="3" y="10">IfcPropertySet</text>
<text class="t" y="10"><tspan x="3" dy="12">GlobalId</tspan><tspan x="3" dy="12">OwnerHistory</tspan><tspan x="3" dy="12">Name</tspan><tspan x="3" dy="12">Description</tspan><tspan x="3" dy="12" class="g">HasContext</tspan><tspan x="3" dy="12" class="g">HasAssociations</tspan><tspan x="3" dy="12" class="g">DefinesType</tspan><tspan x="3" dy="12" class="g">IsDefinedBy</tspan><tspan x="3" dy="12" class="g">DefinesOccurrence</tspan><tspan x="3" dy="12" class="u">HasProperties</tspan></text>
<text class="t c" y="10"><tspan x="166" dy="12">[1:1]</tspan><tspan x="166" dy="12">[0:1]</tspan><tspan x="166" dy="12">[0:1]</tspan><tspan x="166" dy="12">[0:1]</tspan><tspan x="166" dy="12" class="g">S[0:1]</tspan><tspan x="166" dy="12" class="g">S[0:?]</tspan><tspan x="166" dy="12" class="g">S[0:?]</tspan><tspan x="166" dy="12" class="g">S[0:?]</tspan><tspan x="166" dy="12" class="g">S[0:?]</tspan><tspan x="166" dy="12">S[1:?]</tspan></text></g>

<g id="n-psinglevalue-1" transform="translate(808,2172)"><rect class="bx" x=".5" y=".5" width="168" height="144"/><rect class="hd" x=".5" y=".5" width="168" height="12"/><text class="t ht" x="3" y="10">IfcPropertySingleValue</text>
<text class="t" y="10"><tspan x="3" dy="12" class="g">HasExternalReferences</tspan><tspan x="3" dy="12">Name</tspan><tspan x="3" dy="12">Description</tspan><tspan x="3" dy="12" class="g">PartOfPset</tspan><tspan x="3" dy="12" class="g">PropertyForDependance</tspan><tspan x="3" dy="12" class="g">PropertyDependsOn</tspan><tspan x="3" dy="12" class="g">PartOfComplex</tspan><tspan x="3" dy="12" class="g">HasConstraints</tspan><tspan x="3" dy="12" class="g">HasApprovals</tspan><tspan x="3" dy="12">NominalValue</tspan><tspan x="3" dy="12">Unit</tspan></text>
<text class="t c" y="10"><tspan x="166" dy="12" class="g">S[0:?]</tspan><tspan x="166" dy="12">[1:1]</tspan><tspan x="166" dy="12">[0:1]</tspan><tspan x="166" dy="12" class="g">S[0:?]</tspan><tspan x="166" dy="12" class="g">S[0:?]</tspan><tspan x="166" dy="12" class="g">S[0:?]</tspan><tspan x="166" dy="12" class="g">S[0:?]</tspan><tspan x="166" dy="12" class="g">S[0:?]</tspan><tspan x="166" dy="12" class="g">S[0:?]</tspan><tspan x="166" dy="12">[0:1]</tspan><tspan x="166" dy="12">[0:1]</tspan></text></g>

<g id="n-pboundedvalue-1" transform="translate(808,2336)"><rect class="bx" x=".5" y=".5" width="168" height="168"/><rect class="hd" x=".5" y=".5" width="168" height="12"/><text class="t ht" x="3" y="10">IfcPropertyBoundedValue</text>
<text class="t" y="10"><tspan x="3" dy="12" class="g">HasExternalReferences</tspan><tspan x="3" dy="12">Name</tspan><tspan x="3" dy="12">Description</tspan><tspan x="3" dy="12" class="g">PartOfPset</tspan><tspan x="3" dy="12" class="g">PropertyForDependance</tspan><tspan x="3" dy="12" class="g">PropertyDependsOn</tspan><tspan x="3" dy="12" class="g">PartOfComplex</tspan><tspan x="3" dy="12" class="g">HasConstraints</tspan><tspan x="3" dy="12" class="g">HasApprovals</tspan><tspan x="3" dy="12">UpperBoundValue</tspan><tspan x="3" dy="12">LowerBoundValue</tspan><tspan x="3" dy="12">Unit</tspan><tspan x="3" dy="12">SetPointValue</tspan></text>
<text class="t c" y="10"><tspan x="166" dy="12" class="g">S[0:?]</tspan><tspan x="166" dy="12">[1:1]</tspan><tspan x="166" dy="12">[0:1]</tspan><tspan x="166" dy="12" class="g">S[0:?]</tspan><tspan x="166" dy="12" class="g">S[0:?]</tspan><tspan x="166" dy="12" class="g">S[0:?]</tspan><tspan x="166" dy="12" class="g">S[0:?]</tspan><tspan x="166" dy="12" class="g">S[0:?]</tspan><tspan x="166" dy="12" class="g">S[0:?]</tspan><tspan x="166" dy="12">[0:1]</tspan><tspan x="166" dy="12">[0:1]</tspan><tspan x="166" dy="12">[0:1]</tspan><tspan x="166" dy="12">[0:1]</tspan></text></g>

<g id="n-penumeratedvalue-1" transform="translate(808,2524)"><rect class="bx" x=".5" y=".5" width="168" height="144"/><rect class="hd" x=".5" y=".5" width="168" height="12"/><text class="t ht" x="3" y="10">IfcPropertyEnumeratedValue</text>
<text class="t" y="10"><tspan x="3" dy="12" class="g">HasExternalReferences</tspan><tspan x="3" dy="12">Name</tspan><tspan x="3" dy="12">Description</tspan><tspan x="3" dy="12" class="g">PartOfPset</tspan><tspan x="3" dy="12" class="g">PropertyForDependance</tspan><tspan x="3" dy="12" class="g">PropertyDependsOn</tspan><tspan x="3" dy="12" class="g">PartOfComplex</tspan><tspan x="3" dy="12" class="g">HasConstraints</tspan><tspan x="3" dy="12" class="g">HasApprovals</tspan><tspan x="3" dy="12">EnumerationValues</tspan><tspan x="3" dy="12">EnumerationReference</tspan></text>
<text class="t c" y="10"><tspan x="166" dy="12" class="g">S[0:?]</tspan><tspan x="166" dy="12">[1:1]</tspan><tspan x="166" dy="12">[0:1]</tspan><tspan x="166" dy="12" class="g">S[0:?]</tspan><tspan x="166" dy="12" class="g">S[0:?]</tspan><tspan x="166" dy="12" class="g">S[0:?]</tspan><tspan x="166" dy="12" class="g">S[0:?]</tspan><tspan x="166" dy="12" class="g">S[0:?]</tspan><tspan x="166" dy="12" class="g">S[0:?]</tspan><tspan x="166" dy="12">L[1:?]</tspan><tspan x="166" dy="12">[0:1]</tspan></text></g>

<g id="n-plistvalue-1" transform="translate(808,2688)"><rect class="bx" x=".5" y=".5" width="168" height="144"/><rect class="hd" x=".5" y=".5" width="168" height="12"/><text class="t ht" x="3" y="10">IfcPropertyListValue</text>
<text class="t" y="10"><tspan x="3" dy="12" class="g">HasExternalReferences</tspan><tspan x="3" dy="12">Name</tspan><tspan x="3" dy="12">Description</tspan><tspan x="3" dy="12" class="g">PartOfPset</tspan><tspan x="3" dy="12" class="g">PropertyForDependance</tspan><tspan x="3" dy="12" class="g">PropertyDependsOn</tspan><tspan x="3" dy="12" class="g">PartOfComplex</tspan><tspan x="3" dy="12" class="g">HasConstraints</tspan><tspan x="3" dy="12" class="g">HasApprovals</tspan><tspan x="3" dy="12">ListValues</tspan><tspan x="3" dy="12">Unit</tspan></text>
<text class="t c" y="10"><tspan x="166" dy="12" class="g">S[0:?]</tspan><tspan x="166" dy="12">[1:1]</tspan><tspan x="166" dy="12">[0:1]</tspan><tspan x="166" dy="12" class="g">S[0:?]</tspan><tspan x="166" dy="12" class="g">S[0:?]</tspan><tspan x="166" dy="12" class="g">S[0:?]</tspan><tspan x="166" dy="12" class="g">S[0:?]</tspan><tspan x="166" dy="12" class="g">S[0:?]</tspan><tspan x="166" dy="12" class="g">S[0:?]</tspan><tspan x="166" dy="12">L[1:?]</tspan><tspan x="166" dy="12">[0:1]</tspan></text></g>

<g id="n-ptablevalue-1" transform="translate(808,2852)"><rect class="bx" x=".5" y=".5" width="168" height="192"/><rect class="hd" x=".5" y=".5" width="168" height="12"/><text class="t ht" x="3" y="10">IfcPropertyTableValue</text>
<text class="t" y="10"><tspan x="3" dy="12" class="g">HasExternalReferences</tspan><tspan x="3" dy="12">Name</tspan><tspan x="3" dy="12">Description</tspan><tspan x="3" dy="12" class="g">PartOfPset</tspan><tspan x="3" dy="12" class="g">PropertyForDependance</tspan><tspan x="3" dy="12" class="g">PropertyDependsOn</tspan><tspan x="3" dy="12" class="g">PartOfComplex</tspan><tspan x="3" dy="12" class="g">HasConstraints</tspan><tspan x="3" dy="12" class="g">HasApprovals</tspan><tspan x="3" dy="12">DefiningValues</tspan><tspan x="3" dy="12">DefinedValues</tspan><tspan x="3" dy="12">Expression</tspan><tspan x="3" dy="12">DefiningUnit</tspan><tspan x="3" dy="12">DefinedUnit</tspan><tspan x="3" dy="12">CurveInterpolation</tspan></text>
<text class="t c" y="10"><tspan x="166" dy="12" class="g">S[0:?]</tspan><tspan x="166" dy="12">[1:1]</tspan><tspan x="166" dy="12">[0:1]</tspan><tspan x="166" dy="12" class="g">S[0:?]</tspan><tspan x="166" dy="12" class="g">S[0:?]</tspan><tspan x="166" dy="12" class="g">S[0:?]</tspan><tspan x="166" dy="12" class="g">S[0:?]</tspan><tspan x="166" dy="12" class="g">S[0:?]</tspan><tspan x="166" dy="12" class="g">S[0:?]</tspan><tspan x="166" dy="12">L[1:?]</tspan><tspan x="166" dy="12">L[1:?]</tspan><tspan x="166" dy="12">[0:1]</tspan><tspan x="166" dy="12">[0:1]</tspan><tspan x="166" dy="12">[0:1]</tspan><tspan x="166" dy="12">[0:1]</tspan></text></g>

<g id="n-preferencevalue-1" transform="translate(808,3064)"><rect class="bx" x=".5" y=".5" width="168" height="144"/><rect class="hd" x=".5" y=".5" width="168" height="12"/><text class="t ht" x="3" y="10">IfcPropertyReferenceValue</text>
<text class="t" y="10"><tspan x="3" dy="12" class="g">HasExternalReferences</tspan><tspan x="3" dy="12">Name</tspan><tspan x="3" dy="12">Description</tspan><tspan x="3" dy="12" class="g">PartOfPset</tspan><tspan x="3" dy="12" class="g">PropertyForDependance</tspan><tspan x="3" dy="12" class="g">PropertyDependsOn</tspan><tspan x="3" dy="12" class="g">PartOfComplex</tspan><tspan x="3" dy="12" class="g">HasConstraints</tspan><tspan x="3" dy="12" class="g">HasApprovals</tspan><tspan x="3" dy="12">UsageName</tspan><tspan x="3" dy="12">PropertyReference</tspan></text>
<text class="t c" y="10"><tspan x="166" dy="12" class="g">S[0:?]</tspan><tspan x="166" dy="12">[1:1]</tspan><tspan x="166" dy="12">[0:1]</tspan><tspan x="166" dy="12" class="g">S[0:?]</tspan><tspan x="166" dy="12" class="g">S[0:?]</tspan><tspan x="166" dy="12" class="g">S[0:?]</tspan><tspan x="166" dy="12" class="g">S[0:?]</tspan><tspan x="166" dy="12" class="g">S[0:?]</tspan><tspan x="166" dy="12" class="g">S[0:?]</tspan><tspan x="166" dy="12">[0:1]</tspan><tspan x="166" dy="12">[0:1]</tspan></text></g>

<g id="n-tpl-single-1" transform="translate(1008,2172)"><rect class="bb" width="169" height="13"/><text class="t lt" x="3" y="10">Single Value</text></g>
<g id="n-tpl-bounded-1" transform="translate(1008,2204)"><rect class="bb" width="169" height="13"/><text class="t lt" x="3" y="10">Bounded Value</text></g>
<g id="n-tpl-enumerated-1" transform="translate(1008,2236)"><rect class="bb" width="169" height="13"/><text class="t lt" x="3" y="10">Enumerated Value</text></g>
<g id="n-tpl-list-1" transform="translate(1008,2268)"><rect class="bb" width="169" height="13"/><text class="t lt" x="3" y="10">List Value</text></g>
<g id="n-tpl-table-1" transform="translate(1008,2300)"><rect class="bb" width="169" height="13"/><text class="t lt" x="3" y="10">Table Value</text></g>
<g id="n-tpl-reference-1" transform="translate(1008,2332)"><rect class="bb" width="169" height="13"/><text class="t lt" x="3" y="10">Reference Value Time Series</text></g>

<g id="n-reldefinesbyproperties-1" transform="translate(208,3252)"><rect class="bx" x=".5" y=".5" width="168" height="84"/><rect class="hd" x=".5" y=".5" width="168" height="12"/><text class="t ht" x="3" y="10">IfcRelDefinesByProperties</text>
<text class="t" y="10"><tspan x="3" dy="12">GlobalId</tspan><tspan x="3" dy="12">OwnerHistory</tspan><tspan x="3" dy="12">Name</tspan><tspan x="3" dy="12">Description</tspan><tspan x="3" dy="12">RelatedObjects</tspan><tspan x="3" dy="12">RelatingPropertyDefinition</tspan></text>
<text class="t c" y="10"><tspan x="166" dy="12">[1:1]</tspan><tspan x="166" dy="12">[0:1]</tspan><tspan x="166" dy="12">[0:1]</tspan><tspan x="166" dy="12">[0:1]</tspan><tspan x="166" dy="12">S[1:?]</tspan><tspan x="166" dy="12">[1:1]</tspan></text></g>

<g id="n-propertyset-2" transform="translate(408,3252)"><rect class="bx" x=".5" y=".5" width="168" height="132"/><rect class="hd" x=".5" y=".5" width="168" height="12"/><text class="t ht" x="3" y="10">IfcPropertySet</text>
<text class="t" y="10"><tspan x="3" dy="12">GlobalId</tspan><tspan x="3" dy="12">OwnerHistory</tspan><tspan x="3" dy="12">Name</tspan><tspan x="3" dy="12">Description</tspan><tspan x="3" dy="12" class="g">HasContext</tspan><tspan x="3" dy="12" class="g">HasAssociations</tspan><tspan x="3" dy="12" class="g">DefinesType</tspan><tspan x="3" dy="12" class="g">IsDefinedBy</tspan><tspan x="3" dy="12" class="g">DefinesOccurrence</tspan><tspan x="3" dy="12" class="u">HasProperties</tspan></text>
<text class="t c" y="10"><tspan x="166" dy="12">[1:1]</tspan><tspan x="166" dy="12">[0:1]</tspan><tspan x="166" dy="12">[0:1]</tspan><tspan x="166" dy="12">[0:1]</tspan><tspan x="166" dy="12" class="g">S[0:1]</tspan><tspan x="166" dy="12" class="g">S[0:?]</tspan><tspan x="166" dy="12" class="g">S[0:?]</tspan><tspan x="166" dy="12" class="g">S[0:?]</tspan><tspan x="166" dy="12" class="g">S[0:?]</tspan><tspan x="166" dy="12">S[1:?]</tspan></text></g>

<g id="n-psinglevalue-2" transform="translate(608,3252)"><rect class="bx" x=".5" y=".5" width="168" height="144"/><rect class="hd" x=".5" y=".5" width="168" height="12"/><text class="t ht" x="3" y="10">IfcPropertySingleValue</text>
<text class="t" y="10"><tspan x="3" dy="12" class="g">HasExternalReferences</tspan><tspan x="3" dy="12">Name</tspan><tspan x="3" dy="12">Description</tspan><tspan x="3" dy="12" class="g">PartOfPset</tspan><tspan x="3" dy="12" class="g">PropertyForDependance</tspan><tspan x="3" dy="12" class="g">PropertyDependsOn</tspan><tspan x="3" dy="12" class="g">PartOfComplex</tspan><tspan x="3" dy="12" class="g">HasConstraints</tspan><tspan x="3" dy="12" class="g">HasApprovals</tspan><tspan x="3" dy="12">NominalValue</tspan><tspan x="3" dy="12">Unit</tspan></text>
<text class="t c" y="10"><tspan x="166" dy="12" class="g">S[0:?]</tspan><tspan x="166" dy="12">[1:1]</tspan><tspan x="166" dy="12">[0:1]</tspan><tspan x="166" dy="12" class="g">S[0:?]</tspan><tspan x="166" dy="12" class="g">S[0:?]</tspan><tspan x="166" dy="12" class="g">S[0:?]</tspan><tspan x="166" dy="12" class="g">S[0:?]</tspan><tspan x="166" dy="12" class="g">S[0:?]</tspan><tspan x="166" dy="12" class="g">S[0:?]</tspan><tspan x="166" dy="12">[0:1]</tspan><tspan x="166" dy="12">[0:1]</tspan></text></g>

<g id="n-pboundedvalue-2" transform="translate(608,3416)"><rect class="bx" x=".5" y=".5" width="168" height="168"/><rect class="hd" x=".5" y=".5" width="168" height="12"/><text class="t ht" x="3" y="10">IfcPropertyBoundedValue</text>
<text class="t" y="10"><tspan x="3" dy="12" class="g">HasExternalReferences</tspan><tspan x="3" dy="12">Name</tspan><tspan x="3" dy="12">Description</tspan><tspan x="3" dy="12" class="g">PartOfPset</tspan><tspan x="3" dy="12" class="g">PropertyForDependance</tspan><tspan x="3" dy="12" class="g">PropertyDependsOn</tspan><tspan x="3" dy="12" class="g">PartOfComplex</tspan><tspan x="3" dy="12" class="g">HasConstraints</tspan><tspan x="3" dy="12" class="g">HasApprovals</tspan><tspan x="3" dy="12">UpperBoundValue</tspan><tspan x="3" dy="12">LowerBoundValue</tspan><tspan x="3" dy="12">Unit</tspan><tspan x="3" dy="12">SetPointValue</tspan></text>
<text class="t c" y="10"><tspan x="166" dy="12" class="g">S[0:?]</tspan><tspan x="166" dy="12">[1:1]</tspan><tspan x="166" dy="12">[0:1]</tspan><tspan x="166" dy="12" class="g">S[0:?]</tspan><tspan x="166" dy="12" class="g">S[0:?]</tspan><tspan x="166" dy="12" class="g">S[0:?]</tspan><tspan x="166" dy="12" class="g">S[0:?]</tspan><tspan x="166" dy="12" class="g">S[0:?]</tspan><tspan x="166" dy="12" class="g">S[0:?]</tspan><tspan x="166" dy="12">[0:1]</tspan><tspan x="166" dy="12">[0:1]</tspan><tspan x="166" dy="12">[0:1]</tspan><tspan x="166" dy="12">[0:1]</tspan></text></g>

<g id="n-penumeratedvalue-2" transform="translate(608,3604)"><rect class="bx" x=".5" y=".5" width="168" height="144"/><rect class="hd" x=".5" y=".5" width="168" height="12"/><text class="t ht" x="3" y="10">IfcPropertyEnumeratedValue</text>
<text class="t" y="10"><tspan x="3" dy="12" class="g">HasExternalReferences</tspan><tspan x="3" dy="12">Name</tspan><tspan x="3" dy="12">Description</tspan><tspan x="3" dy="12" class="g">PartOfPset</tspan><tspan x="3" dy="12" class="g">PropertyForDependance</tspan><tspan x="3" dy="12" class="g">PropertyDependsOn</tspan><tspan x="3" dy="12" class="g">PartOfComplex</tspan><tspan x="3" dy="12" class="g">HasConstraints</tspan><tspan x="3" dy="12" class="g">HasApprovals</tspan><tspan x="3" dy="12">EnumerationValues</tspan><tspan x="3" dy="12">EnumerationReference</tspan></text>
<text class="t c" y="10"><tspan x="166" dy="12" class="g">S[0:?]</tspan><tspan x="166" dy="12">[1:1]</tspan><tspan x="166" dy="12">[0:1]</tspan><tspan x="166" dy="12" class="g">S[0:?]</tspan><tspan x="166" dy="12" class="g">S[0:?]</tspan><tspan x="166" dy="12" class="g">S[0:?]</tspan><tspan x="166" dy="12" class="g">S[0:?]</tspan><tspan x="166" dy="12" class="g">S[0:?]</tspan><tspan x="166" dy="12" class="g">S[0:?]</tspan><tspan x="166" dy="12">L[1:?]</tspan><tspan x="166" dy="12">[0:1]</tspan></text></g>

<g id="n-plistvalue-2" transform="translate(608,3768)"><rect class="bx" x=".5" y=".5" width="168" height="144"/><rect class="hd" x=".5" y=".5" width="168" height="12"/><text class="t ht" x="3" y="10">IfcPropertyListValue</text>
<text class="t" y="10"><tspan x="3" dy="12" class="g">HasExternalReferences</tspan><tspan x="3" dy="12">Name</tspan><tspan x="3" dy="12">Description</tspan><tspan x="3" dy="12" class="g">PartOfPset</tspan><tspan x="3" dy="12" class="g">PropertyForDependance</tspan><tspan x="3" dy="12" class="g">PropertyDependsOn</tspan><tspan x="3" dy="12" class="g">PartOfComplex</tspan><tspan x="3" dy="12" class="g">HasConstraints</tspan><tspan x="3" dy="12" class="g">HasApprovals</tspan><tspan x="3" dy="12">ListValues</tspan><tspan x="3" dy="12">Unit</tspan></text>
<text class="t c" y="10"><tspan x="166" dy="12" class="g">S[0:?]</tspan><tspan x="166" dy="12">[1:1]</tspan><tspan x="166" dy="12">[0:1]</tspan><tspan x="166" dy="12" class="g">S[0:?]</tspan><tspan x="166" dy="12" class="g">S[0:?]</tspan><tspan x="166" dy="12" class="g">S[0:?]</tspan><tspan x="166" dy="12" class="g">S[0:?]</tspan><tspan x="166" dy="12" class="g">S[0:?]</tspan><tspan x="166" dy="12" class="g">S[0:?]</tspan><tspan x="166" dy="12">L[1:?]</tspan><tspan x="166" dy="12">[0:1]</tspan></text></g>

<g id="n-ptablevalue-2" transform="translate(608,3932)"><rect class="bx" x=".5" y=".5" width="168" height="192"/><rect class="hd" x=".5" y=".5" width="168" height="12"/><text class="t ht" x="3" y="10">IfcPropertyTableValue</text>
<text class="t" y="10"><tspan x="3" dy="12" class="g">HasExternalReferences</tspan><tspan x="3" dy="12">Name</tspan><tspan x="3" dy="12">Description</tspan><tspan x="3" dy="12" class="g">PartOfPset</tspan><tspan x="3" dy="12" class="g">PropertyForDependance</tspan><tspan x="3" dy="12" class="g">PropertyDependsOn</tspan><tspan x="3" dy="12" class="g">PartOfComplex</tspan><tspan x="3" dy="12" class="g">HasConstraints</tspan><tspan x="3" dy="12" class="g">HasApprovals</tspan><tspan x="3" dy="12">DefiningValues</tspan><tspan x="3" dy="12">DefinedValues</tspan><tspan x="3" dy="12">Expression</tspan><tspan x="3" dy="12">DefiningUnit</tspan><tspan x="3" dy="12">DefinedUnit</tspan><tspan x="3" dy="12">CurveInterpolation</tspan></text>
<text class="t c" y="10"><tspan x="166" dy="12" class="g">S[0:?]</tspan><tspan x="166" dy="12">[1:1]</tspan><tspan x="166" dy="12">[0:1]</tspan><tspan x="166" dy="12" class="g">S[0:?]</tspan><tspan x="166" dy="12" class="g">S[0:?]</tspan><tspan x="166" dy="12" class="g">S[0:?]</tspan><tspan x="166" dy="12" class="g">S[0:?]</tspan><tspan x="166" dy="12" class="g">S[0:?]</tspan><tspan x="166" dy="12" class="g">S[0:?]</tspan><tspan x="166" dy="12">L[1:?]</tspan><tspan x="166" dy="12">L[1:?]</tspan><tspan x="166" dy="12">[0:1]</tspan><tspan x="166" dy="12">[0:1]</tspan><tspan x="166" dy="12">[0:1]</tspan><tspan x="166" dy="12">[0:1]</tspan></text></g>

<g id="n-preferencevalue-2" transform="translate(608,4144)"><rect class="bx" x=".5" y=".5" width="168" height="144"/><rect class="hd" x=".5" y=".5" width="168" height="12"/><text class="t ht" x="3" y="10">IfcPropertyReferenceValue</text>
<text class="t" y="10"><tspan x="3" dy="12" class="g">HasExternalReferences</tspan><tspan x="3" dy="12">Name</tspan><tspan x="3" dy="12">Description</tspan><tspan x="3" dy="12" class="g">PartOfPset</tspan><tspan x="3" dy="12" class="g">PropertyForDependance</tspan><tspan x="3" dy="12" class="g">PropertyDependsOn</tspan><tspan x="3" dy="12" class="g">PartOfComplex</tspan><tspan x="3" dy="12" class="g">HasConstraints</tspan><tspan x="3" dy="12" class="g">HasApprovals</tspan><tspan x="3" dy="12">UsageName</tspan><tspan x="3" dy="12">PropertyReference</tspan></text>
<text class="t c" y="10"><tspan x="166" dy="12" class="g">S[0:?]</tspan><tspan x="166" dy="12">[1:1]</tspan><tspan x="166" dy="12">[0:1]</tspan><tspan x="166" dy="12" class="g">S[0:?]</tspan><tspan x="166" dy="12" class="g">S[0:?]</tspan><tspan x="166" dy="12" class="g">S[0:?]</tspan><tspan x="166" dy="12" class="g">S[0:?]</tspan><tspan x="166" dy="12" class="g">S[0:?]</tspan><tspan x="166" dy="12" class="g">S[0:?]</tspan><tspan x="166" dy="12">[0:1]</tspan><tspan x="166" dy="12">[0:1]</tspan></text></g>

<g id="n-tpl-single-2" transform="translate(808,3252)"><rect class="bb" width="169" height="13"/><text class="t lt" x="3" y="10">Single Value</text></g>
<g id="n-tpl-bounded-2" transform="translate(808,3284)"><rect class="bb" width="169" height="13"/><text class="t lt" x="3" y="10">Bounded Value</text></g>
<g id="n-tpl-enumerated-2" transform="translate(808,3316)"><rect class="bb" width="169" height="13"/><text class="t lt" x="3" y="10">Enumerated Value</text></g>
<g id="n-tpl-list-2" transform="translate(808,3348)"><rect class="bb" width="169" height="13"/><text class="t lt" x="3" y="10">List Value</text></g>
<g id="n-tpl-table-2" transform="translate(808,3380)"><rect class="bb" width="169" height="13"/><text class="t lt" x="3" y="10">Table Value</text></g>
<g id="n-tpl-reference-2" transform="translate(808,3412)"><rect class="bb" width="169" height="13"/><text class="t lt" x="3" y="10">Reference Value Time Series</text></g>

<g id="n-reldefinesbyproperties-2" transform="translate(208,4332)"><rect class="bx" x=".5" y=".5" width="168" height="84"/><rect class="hd" x=".5" y=".5" width="168" height="12"/><text class="t ht" x="3" y="10">IfcRelDefinesByProperties</text>
<text class="t" y="10"><tspan x="3" dy="12">GlobalId</tspan><tspan x="3" dy="12">OwnerHistory</tspan><tspan x="3" dy="12">Name</tspan><tspan x="3" dy="12">Description</tspan><tspan x="3" dy="12">RelatedObjects</tspan><tspan x="3" dy="12">RelatingPropertyDefinition</tspan></text>
<text class="t c" y="10"><tspan x="166" dy="12">[1:1]</tspan><tspan x="166" dy="12">[0:1]</tspan><tspan x="166" dy="12">[0:1]</tspan><tspan x="166" dy="12">[0:1]</tspan><tspan x="166" dy="12">S[1:?]</tspan><tspan x="166" dy="12">[1:1]</tspan></text></g>

<g id="n-propertyset-3" transform="translate(408,4332)"><rect class="bx" x=".5" y=".5" width="168" height="132"/><rect class="hd" x=".5" y=".5" width="168" height="12"/><text class="t ht" x="3" y="10">IfcPropertySet</text>
<text class="t" y="10"><tspan x="3" dy="12">GlobalId</tspan><tspan x="3" dy="12">OwnerHistory</tspan><tspan x="3" dy="12">Name</tspan><tspan x="3" dy="12">Description</tspan><tspan x="3" dy="12" class="g">HasContext</tspan><tspan x="3" dy="12" class="g">HasAssociations</tspan><tspan x="3" dy="12" class="g">DefinesType</tspan><tspan x="3" dy="12" class="g">IsDefinedBy</tspan><tspan x="3" dy="12" class="g">DefinesOccurrence</tspan><tspan x="3" dy="12" class="u">HasProperties</tspan></text>
<text class="t c" y="10"><tspan x="166" dy="12">[1:1]</tspan><tspan x="166" dy="12">[0:1]</tspan><tspan x="166" dy="12">[0:1]</tspan><tspan x="166" dy="12">[0:1]</tspan><tspan x="166" dy="12" class="g">S[0:1]</tspan><tspan x="166" dy="12" class="g">S[0:?]</tspan><tspan x="166" dy="12" class="g">S[0:?]</tspan><tspan x="166" dy="12" class="g">S[0:?]</tspan><tspan x="166" dy="12" class="g">S[0:?]</tspan><tspan x="166" dy="12">S[1:?]</tspan></text></g>

<g id="n-psinglevalue-3" transform="translate(608,4332)"><rect class="bx" x=".5" y=".5" width="168" height="144"/><rect class="hd" x=".5" y=".5" width="168" height="12"/><text class="t ht" x="3" y="10">IfcPropertySingleValue</text>
<text class="t" y="10"><tspan x="3" dy="12" class="g">HasExternalReferences</tspan><tspan x="3" dy="12">Name</tspan><tspan x="3" dy="12">Description</tspan><tspan x="3" dy="12" class="g">PartOfPset</tspan><tspan x="3" dy="12" class="g">PropertyForDependance</tspan><tspan x="3" dy="12" class="g">PropertyDependsOn</tspan><tspan x="3" dy="12" class="g">PartOfComplex</tspan><tspan x="3" dy="12" class="g">HasConstraints</tspan><tspan x="3" dy="12" class="g">HasApprovals</tspan><tspan x="3" dy="12">NominalValue</tspan><tspan x="3" dy="12">Unit</tspan></text>
<text class="t c" y="10"><tspan x="166" dy="12" class="g">S[0:?]</tspan><tspan x="166" dy="12">[1:1]</tspan><tspan x="166" dy="12">[0:1]</tspan><tspan x="166" dy="12" class="g">S[0:?]</tspan><tspan x="166" dy="12" class="g">S[0:?]</tspan><tspan x="166" dy="12" class="g">S[0:?]</tspan><tspan x="166" dy="12" class="g">S[0:?]</tspan><tspan x="166" dy="12" class="g">S[0:?]</tspan><tspan x="166" dy="12" class="g">S[0:?]</tspan><tspan x="166" dy="12">[0:1]</tspan><tspan x="166" dy="12">[0:1]</tspan></text></g>

<g id="n-pboundedvalue-3" transform="translate(608,4496)"><rect class="bx" x=".5" y=".5" width="168" height="168"/><rect class="hd" x=".5" y=".5" width="168" height="12"/><text class="t ht" x="3" y="10">IfcPropertyBoundedValue</text>
<text class="t" y="10"><tspan x="3" dy="12" class="g">HasExternalReferences</tspan><tspan x="3" dy="12">Name</tspan><tspan x="3" dy="12">Description</tspan><tspan x="3" dy="12" class="g">PartOfPset</tspan><tspan x="3" dy="12" class="g">PropertyForDependance</tspan><tspan x="3" dy="12" class="g">PropertyDependsOn</tspan><tspan x="3" dy="12" class="g">PartOfComplex</tspan><tspan x="3" dy="12" class="g">HasConstraints</tspan><tspan x="3" dy="12" class="g">HasApprovals</tspan><tspan x="3" dy="12">UpperBoundValue</tspan><tspan x="3" dy="12">LowerBoundValue</tspan><tspan x="3" dy="12">Unit</tspan><tspan x="3" dy="12">SetPointValue</tspan></text>
<text class="t c" y="10"><tspan x="166" dy="12" class="g">S[0:?]</tspan><tspan x="166" dy="12">[1:1]</tspan><tspan x="166" dy="12">[0:1]</tspan><tspan x="166" dy="12" class="g">S[0:?]</tspan><tspan x="166" dy="12" class="g">S[0:?]</tspan><tspan x="166" dy="12" class="g">S[0:?]</tspan><tspan x="166" dy="12" class="g">S[0:?]</tspan><tspan x="166" dy="12" class="g">S[0:?]</tspan><tspan x="166" dy="12" class="g">S[0:?]</tspan><tspan x="166" dy="12">[0:1]</tspan><tspan x="166" dy="12">[0:1]</tspan><tspan x="166" dy="12">[0:1]</tspan><tspan x="166" dy="12">[0:1]</tspan></text></g>

<g id="n-penumeratedvalue-3" transform="translate(608,4684)"><rect class="bx" x=".5" y=".5" width="168" height="144"/><rect class="hd" x=".5" y=".5" width="168" height="12"/><text class="t ht" x="3" y="10">IfcPropertyEnumeratedValue</text>
<text class="t" y="10"><tspan x="3" dy="12" class="g">HasExternalReferences</tspan><tspan x="3" dy="12">Name</tspan><tspan x="3" dy="12">Description</tspan><tspan x="3" dy="12" class="g">PartOfPset</tspan><tspan x="3" dy="12" class="g">PropertyForDependance</tspan><tspan x="3" dy="12" class="g">PropertyDependsOn</tspan><tspan x="3" dy="12" class="g">PartOfComplex</tspan><tspan x="3" dy="12" class="g">HasConstraints</tspan><tspan x="3" dy="12" class="g">HasApprovals</tspan><tspan x="3" dy="12">EnumerationValues</tspan><tspan x="3" dy="12">EnumerationReference</tspan></text>
<text class="t c" y="10"><tspan x="166" dy="12" class="g">S[0:?]</tspan><tspan x="166" dy="12">[1:1]</tspan><tspan x="166" dy="12">[0:1]</tspan><tspan x="166" dy="12" class="g">S[0:?]</tspan><tspan x="166" dy="12" class="g">S[0:?]</tspan><tspan x="166" dy="12" class="g">S[0:?]</tspan><tspan x="166" dy="12" class="g">S[0:?]</tspan><tspan x="166" dy="12" class="g">S[0:?]</tspan><tspan x="166" dy="12" class="g">S[0:?]</tspan><tspan x="166" dy="12">L[1:?]</tspan><tspan x="166" dy="12">[0:1]</tspan></text></g>

<g id="n-plistvalue-3" transform="translate(608,4848)"><rect class="bx" x=".5" y=".5" width="168" height="144"/><rect class="hd" x=".5" y=".5" width="168" height="12"/><text class="t ht" x="3" y="10">IfcPropertyListValue</text>
<text class="t" y="10"><tspan x="3" dy="12" class="g">HasExternalReferences</tspan><tspan x="3" dy="12">Name</tspan><tspan x="3" dy="12">Description</tspan><tspan x="3" dy="12" class="g">PartOfPset</tspan><tspan x="3" dy="12" class="g">PropertyForDependance</tspan><tspan x="3" dy="12" class="g">PropertyDependsOn</tspan><tspan x="3" dy="12" class="g">PartOfComplex</tspan><tspan x="3" dy="12" class="g">HasConstraints</tspan><tspan x="3" dy="12" class="g">HasApprovals</tspan><tspan x="3" dy="12">ListValues</tspan><tspan x="3" dy="12">Unit</tspan></text>
<text class="t c" y="10"><tspan x="166" dy="12" class="g">S[0:?]</tspan><tspan x="166" dy="12">[1:1]</tspan><tspan x="166" dy="12">[0:1]</tspan><tspan x="166" dy="12" class="g">S[0:?]</tspan><tspan x="166" dy="12" class="g">S[0:?]</tspan><tspan x="166" dy="12" class="g">S[0:?]</tspan><tspan x="166" dy="12" class="g">S[0:?]</tspan><tspan x="166" dy="12" class="g">S[0:?]</tspan><tspan x="166" dy="12" class="g">S[0:?]</tspan><tspan x="166" dy="12">L[1:?]</tspan><tspan x="166" dy="12">[0:1]</tspan></text></g>

<g id="n-ptablevalue-3" transform="translate(608,5012)"><rect class="bx" x=".5" y=".5" width="168" height="192"/><rect class="hd" x=".5" y=".5" width="168" height="12"/><text class="t ht" x="3" y="10">IfcPropertyTableValue</text>
<text class="t" y="10"><tspan x="3" dy="12" class="g">HasExternalReferences</tspan><tspan x="3" dy="12">Name</tspan><tspan x="3" dy="12">Description</tspan><tspan x="3" dy="12" class="g">PartOfPset</tspan><tspan x="3" dy="12" class="g">PropertyForDependance</tspan><tspan x="3" dy="12" class="g">PropertyDependsOn</tspan><tspan x="3" dy="12" class="g">PartOfComplex</tspan><tspan x="3" dy="12" class="g">HasConstraints</tspan><tspan x="3" dy="12" class="g">HasApprovals</tspan><tspan x="3" dy="12">DefiningValues</tspan><tspan x="3" dy="12">DefinedValues</tspan><tspan x="3" dy="12">Expression</tspan><tspan x="3" dy="12">DefiningUnit</tspan><tspan x="3" dy="12">DefinedUnit</tspan><tspan x="3" dy="12">CurveInterpolation</tspan></text>
<text class="t c" y="10"><tspan x="166" dy="12" class="g">S[0:?]</tspan><tspan x="166" dy="12">[1:1]</tspan><tspan x="166" dy="12">[0:1]</tspan><tspan x="166" dy="12" class="g">S[0:?]</tspan><tspan x="166" dy="12" class="g">S[0:?]</tspan><tspan x="166" dy="12" class="g">S[0:?]</tspan><tspan x="166" dy="12" class="g">S[0:?]</tspan><tspan x="166" dy="12" class="g">S[0:?]</tspan><tspan x="166" dy="12" class="g">S[0:?]</tspan><tspan x="166" dy="12">L[1:?]</tspan><tspan x="166" dy="12">L[1:?]</tspan><tspan x="166" dy="12">[0:1]</tspan><tspan x="166" dy="12">[0:1]</tspan><tspan x="166" dy="12">[0:1]</tspan><tspan x="166" dy="12">[0:1]</tspan></text></g>

<g id="n-relassignstocontrol" transform="translate(208,5248)"><rect class="bx" x=".5" y=".5" width="168" height="96"/><rect class="hd" x=".5" y=".5" width="168" height="12"/><text class="t ht" x="3" y="10">IfcRelAssignsToControl</text>
<text class="t" y="10"><tspan x="3" dy="12">GlobalId</tspan><tspan x="3" dy="12">OwnerHistory</tspan><tspan x="3" dy="12">Name</tspan><tspan x="3" dy="12">Description</tspan><tspan x="3" dy="12" class="u">RelatedObjects</tspan><tspan x="3" dy="12" class="m">RelatedObjectsType</tspan><tspan x="3" dy="12">RelatingControl</tspan></text>
<text class="t c" y="10"><tspan x="166" dy="12">[1:1]</tspan><tspan x="166" dy="12">[0:1]</tspan><tspan x="166" dy="12">[0:1]</tspan><tspan x="166" dy="12">[0:1]</tspan><tspan x="166" dy="12">S[1:?]</tspan><tspan x="166" dy="12" class="m">[0:1]</tspan><tspan x="166" dy="12">[1:1]</tspan></text></g>

<g id="n-object-2" transform="translate(408,5248)"><rect class="bx" x=".5" y=".5" width="168" height="204"/><rect class="hg" x=".5" y=".5" width="168" height="12"/><text class="t ht" x="3" y="10">IfcObject</text>
<text class="t" y="10"><tspan x="3" dy="12">GlobalId</tspan><tspan x="3" dy="12">OwnerHistory</tspan><tspan x="3" dy="12">Name</tspan><tspan x="3" dy="12">Description</tspan><tspan x="3" dy="12" class="g">HasAssignments</tspan><tspan x="3" dy="12" class="g">Nests</tspan><tspan x="3" dy="12" class="g">IsNestedBy</tspan><tspan x="3" dy="12" class="g">HasContext</tspan><tspan x="3" dy="12" class="g">IsDecomposedBy</tspan><tspan x="3" dy="12" class="g">Decomposes</tspan><tspan x="3" dy="12" class="g">HasAssociations</tspan><tspan x="3" dy="12">ObjectType</tspan><tspan x="3" dy="12" class="g">IsDeclaredBy</tspan><tspan x="3" dy="12" class="g">Declares</tspan><tspan x="3" dy="12" class="g">IsTypedBy</tspan><tspan x="3" dy="12" class="g">IsDefinedBy</tspan></text>
<text class="t c" y="10"><tspan x="166" dy="12">[1:1]</tspan><tspan x="166" dy="12">[0:1]</tspan><tspan x="166" dy="12">[0:1]</tspan><tspan x="166" dy="12">[0:1]</tspan><tspan x="166" dy="12" class="g">S[0:?]</tspan><tspan x="166" dy="12" class="g">S[0:1]</tspan><tspan x="166" dy="12" class="g">S[0:?]</tspan><tspan x="166" dy="12" class="g">S[0:1]</tspan><tspan x="166" dy="12" class="g">S[0:?]</tspan><tspan x="166" dy="12" class="g">S[0:1]</tspan><tspan x="166" dy="12" class="g">S[0:?]</tspan><tspan x="166" dy="12">[0:1]</tspan><tspan x="166" dy="12" class="g">S[0:1]</tspan><tspan x="166" dy="12" class="g">S[0:?]</tspan><tspan x="166" dy="12" class="g">S[0:1]</tspan><tspan x="166" dy="12" class="g">S[0:?]</tspan></text></g>
</svg>
